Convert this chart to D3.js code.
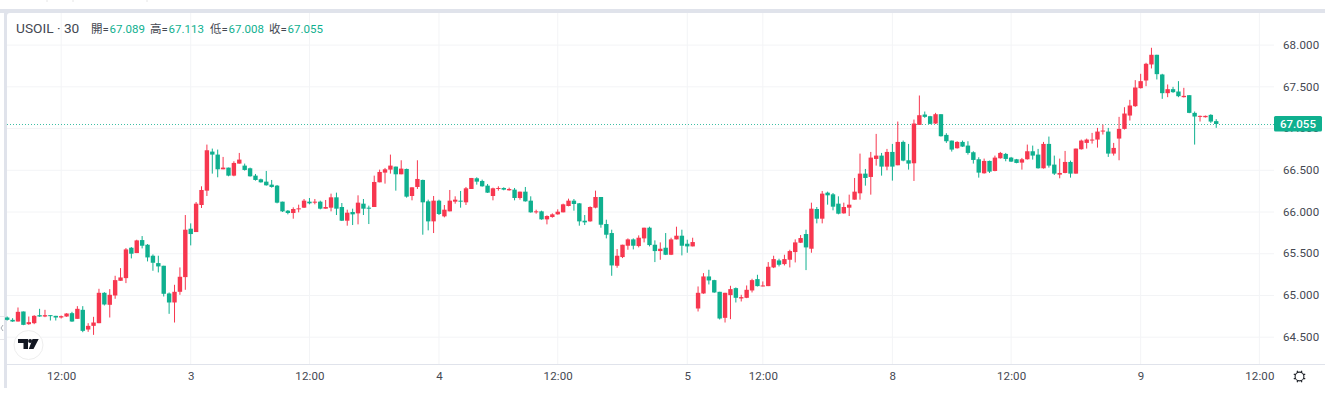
<!DOCTYPE html>
<html><head><meta charset="utf-8">
<script src="https://cdn.jsdelivr.net/npm/d3@7/dist/d3.min.js"></script>
<style>html,body{margin:0;padding:0;background:#fff;overflow:hidden}svg{display:block}</style>
</head><body><svg id="c" width="1325" height="396"></svg>
<script>
const opens=[64.736,64.708,64.688,64.808,64.656,64.668,64.764,64.748,64.764,64.756,64.736,64.748,64.788,64.72,64.828,64.592,64.636,64.668,65.032,64.888,65.0,65.176,65.208,65.572,65.508,65.664,65.608,65.476,65.388,65.356,65.024,64.916,65.044,65.22,65.8,65.76,66.084,66.256,66.724,66.688,66.512,66.532,66.436,66.58,66.556,66.524,66.436,66.392,66.364,66.328,66.316,66.124,66.016,65.988,66.032,66.052,66.124,66.116,66.124,66.04,66.052,66.176,66.06,65.896,66.0,65.984,66.1,66.052,66.06,66.356,66.472,66.508,66.544,66.452,66.516,66.192,66.3,66.384,66.128,65.888,66.136,65.948,66.008,
66.124,66.136,66.116,66.276,66.404,66.372,66.316,66.192,66.276,66.288,66.26,66.268,66.168,66.244,66.136,65.996,66.008,65.912,65.94,65.972,65.996,66.072,66.136,66.104,65.896,65.888,66.052,66.18,65.856,65.748,65.356,65.46,65.596,65.672,65.592,65.684,65.812,65.608,65.532,65.572,65.488,65.672,65.716,65.62,65.588,
64.844,65.024,65.228,65.184,65.044,64.732,65.004,65.088,64.964,64.972,65.06,65.196,65.112,65.112,65.336,65.42,65.376,65.428,65.52,65.632,65.736,65.56,66.036,65.92,66.232,66.212,66.1,65.984,66.052,
66.148,66.224,66.46,66.42,66.636,66.676,66.544,66.72,66.56,66.84,66.62,66.584,67.044,67.168,67.148,67.06,67.172,66.924,66.856,66.764,66.84,66.796,66.716,66.632,66.464,66.612,66.492,66.644,66.696,66.652,66.632,66.592,66.632,66.728,66.688,66.524,66.816,66.568,66.448,66.468,66.6,66.46,66.752,
66.828,66.86,66.868,66.964,66.964,66.7,66.88,66.996,67.156,67.268,67.484,67.576,67.768,67.884,67.648,67.424,67.472,67.444,67.376,67.4,67.188,67.14,67.136,67.164,67.089];
const highs=[64.748,64.728,64.856,64.808,64.748,64.764,64.84,64.828,64.764,64.756,64.76,64.788,64.804,64.872,64.872,64.668,64.744,65.08,65.04,65.076,65.236,65.328,65.568,65.58,65.668,65.712,65.616,65.492,65.476,65.356,65.036,65.128,65.336,65.964,65.864,66.12,66.308,66.808,66.76,66.748,66.66,66.532,66.608,66.708,66.58,66.532,66.456,66.4,66.492,66.384,66.324,66.124,66.024,66.056,66.088,66.156,66.168,66.156,66.136,66.144,66.22,66.232,66.108,66.028,66.04,66.2,66.156,66.076,66.436,66.508,66.528,66.688,66.544,66.62,66.52,66.296,66.62,66.388,66.148,66.192,66.148,66.084,66.264,
66.188,66.252,66.3,66.408,66.416,66.388,66.336,66.292,66.308,66.296,66.292,66.288,66.244,66.3,66.188,66.028,66.016,65.96,65.984,66.032,66.1,66.16,66.156,66.108,65.964,66.068,66.256,66.18,65.908,65.788,65.556,65.608,65.684,65.684,65.72,65.812,65.824,65.66,65.636,65.748,65.692,65.824,65.788,65.668,65.692,
65.108,65.268,65.308,65.188,65.044,65.032,65.116,65.096,65.008,65.12,65.2,65.248,65.168,65.4,65.476,65.44,65.488,65.548,65.672,65.724,65.788,66.112,66.06,66.252,66.244,66.228,66.188,66.112,66.208,
66.408,66.7,66.516,66.72,66.936,66.708,66.756,66.816,67.084,66.856,66.816,67.108,67.396,67.204,67.152,67.188,67.172,66.944,66.856,66.848,66.856,66.848,66.728,66.656,66.64,66.616,66.676,66.72,66.708,66.66,66.636,66.648,66.808,66.796,66.756,66.84,66.904,66.676,66.64,66.732,66.616,66.76,66.868,
66.88,66.948,67.008,67.048,67.008,66.828,67.14,67.256,67.344,67.58,67.656,67.788,67.968,67.884,67.656,67.528,67.5,67.568,67.488,67.4,67.204,67.156,67.156,67.172,67.113];
const lows=[64.70,64.684,64.688,64.644,64.648,64.656,64.744,64.74,64.70,64.70,64.724,64.744,64.684,64.72,64.56,64.564,64.528,64.668,64.88,64.736,64.96,65.176,65.148,65.444,65.508,65.564,65.408,65.296,65.276,64.988,64.78,64.676,65.008,65.068,65.6,65.76,66.048,66.192,66.46,66.416,66.512,66.428,66.428,66.58,66.496,66.424,66.376,66.352,66.316,66.292,66.104,66.0,65.972,65.92,65.996,66.048,66.092,66.092,66.032,66.04,66.008,65.964,65.892,65.836,65.844,65.852,65.964,65.856,66.06,66.356,66.34,66.46,66.256,66.452,66.172,66.14,66.276,65.728,65.78,65.748,65.964,65.936,66.008,
66.1,66.052,66.084,66.276,66.328,66.304,66.228,66.14,66.256,66.26,66.256,66.14,66.148,66.124,65.992,65.98,65.908,65.852,65.932,65.968,65.996,66.068,66.016,65.836,65.844,65.884,66.044,65.812,65.684,65.236,65.332,65.448,65.548,65.552,65.576,65.636,65.588,65.4,65.428,65.484,65.484,65.672,65.48,65.512,65.588,
64.808,65.02,65.132,65.032,64.712,64.676,64.716,64.916,64.928,64.968,65.036,65.108,65.108,65.112,65.328,65.348,65.36,65.336,65.396,65.628,65.304,65.512,65.864,65.864,66.088,66.02,65.972,65.98,65.952,
66.148,66.148,66.316,66.208,66.556,66.436,66.5,66.376,66.56,66.608,66.508,66.372,67.044,67.128,67.052,67.056,66.904,66.828,66.724,66.76,66.78,66.688,66.58,66.412,66.46,66.468,66.488,66.64,66.608,66.6,66.584,66.508,66.628,66.628,66.52,66.52,66.532,66.444,66.404,66.464,66.412,66.46,66.748,
66.76,66.82,66.772,66.928,66.66,66.676,66.62,66.988,67.096,67.26,67.48,67.508,67.72,67.588,67.356,67.376,67.428,67.376,67.372,67.184,66.808,67.084,67.132,67.068,67.008];
const closes=[64.708,64.688,64.804,64.648,64.68,64.756,64.748,64.764,64.752,64.736,64.752,64.784,64.688,64.84,64.576,64.636,64.676,65.032,64.892,65.008,65.184,65.216,65.552,65.5,65.66,65.596,65.456,65.392,65.348,65.02,64.916,65.044,65.224,65.788,65.736,66.1,66.264,66.74,66.688,66.512,66.532,66.436,66.588,66.628,66.504,66.428,66.384,66.356,66.32,66.3,66.112,66.008,65.988,66.036,66.044,66.136,66.104,66.124,66.04,66.06,66.176,66.04,65.896,65.992,65.972,66.112,66.04,66.044,66.36,66.48,66.512,66.556,66.452,66.52,66.184,66.296,66.396,66.116,65.888,66.136,65.976,66.028,66.136,
66.148,66.128,66.284,66.408,66.364,66.308,66.232,66.284,66.288,66.268,66.276,66.168,66.244,66.128,65.996,66.008,65.912,65.952,65.972,66.004,66.092,66.136,66.096,65.888,65.876,66.06,66.18,65.848,65.728,65.36,65.476,65.608,65.672,65.596,65.692,65.812,65.604,65.532,65.56,65.488,65.672,65.716,65.596,65.588,65.64,
65.032,65.228,65.18,65.036,64.724,65.032,65.076,64.972,64.98,65.068,65.184,65.112,65.12,65.344,65.436,65.368,65.436,65.532,65.636,65.688,65.576,66.04,65.92,66.22,66.2,66.064,65.98,66.06,66.088,
66.244,66.46,66.408,66.652,66.676,66.544,66.72,66.544,66.84,66.616,66.58,67.06,67.16,67.14,67.056,67.172,66.908,66.848,66.748,66.84,66.784,66.708,66.624,66.472,66.612,66.484,66.652,66.708,66.636,66.604,66.588,66.632,66.728,66.676,66.524,66.816,66.556,66.46,66.468,66.6,66.46,66.76,66.856,
66.868,66.868,66.964,66.976,66.7,66.768,66.996,67.18,67.276,67.492,67.568,67.776,67.884,67.652,67.424,67.472,67.436,67.388,67.392,67.188,67.144,67.152,67.152,67.084,67.055];
const priceTicks=[64.5,65,65.5,66,66.5,67,67.5,68];
const timeTickBars=[11,35,57,81,103,127,141,165,187,211,233];
const timeTickLabels=["12:00","3","12:00","4","12:00","5","12:00","8","12:00","9","12:00"];
const lastPrice=67.055;
const headerValues=["67.089","67.113","67.008","67.055"];
const headerNames=["開","高","低","收"];

const UP="#f7374f",DOWN="#0fb08f",AXIS="#e0e3eb",GRID="#f3f4f6",TEXT="#444852";
const FONT="Roboto,'Noto Sans CJK TC',sans-serif";
const svg=d3.select("#c");
const x=d3.scaleLinear().domain([1,233]).range([7.2,1259.4]);
const y=d3.scaleLinear().domain([64.5,68]).range([337.2,45.1]);
const L=7,R=1274,T=13,B=364;

// frame
svg.append("rect").attr("x",0).attr("y",9).attr("width",1325).attr("height",4).attr("fill",AXIS);
svg.append("rect").attr("x",4).attr("y",9).attr("width",3).attr("height",379).attr("fill",AXIS);
svg.append("path").attr("d","M7 13 h3 a3 3 0 0 0 -3 3 z").attr("fill",AXIS);
[47,73,147].forEach(v=>svg.append("line").attr("x1",v).attr("x2",v).attr("y1",0).attr("y2",2).attr("stroke","#e6e6e6"));

// grid
const g=svg.append("g");
g.selectAll(".gx").data(timeTickBars).join("line").attr("x1",d=>x(d)).attr("x2",d=>x(d)).attr("y1",T).attr("y2",B).attr("stroke",GRID);
g.selectAll(".gy").data(priceTicks).join("line").attr("x1",L).attr("x2",R).attr("y1",d=>y(d)).attr("y2",d=>y(d)).attr("stroke",GRID);

// last price line, snapped to a pixel row so the dots stay crisp
const lastY=Math.round(y(lastPrice))+.5;
svg.append("line").attr("x1",L).attr("x2",R).attr("y1",lastY).attr("y2",lastY)
  .attr("stroke",DOWN).attr("stroke-width",1).attr("stroke-dasharray","1 2").attr("opacity",.8);

// candles
const bars=d3.range(opens.length);
const wickG=svg.append("g"),bodyG=svg.append("g");
const col=i=>closes[i]>=opens[i]?UP:DOWN;
wickG.selectAll("line").data(bars).join("line")
  .attr("x1",i=>x(i+1)).attr("x2",i=>x(i+1)).attr("y1",i=>y(highs[i])).attr("y2",i=>y(lows[i]))
  .attr("stroke",col).attr("stroke-width",1);
bodyG.selectAll("rect").data(bars).join("rect")
  .attr("x",i=>x(i+1)-2.2).attr("width",4.4)
  .attr("y",i=>y(Math.max(opens[i],closes[i])))
  .attr("height",i=>Math.max(1,Math.abs(y(opens[i])-y(closes[i]))))
  .attr("fill",col);

// axes
const xAxis=d3.axisBottom(x).tickValues(timeTickBars).tickSize(0).tickPadding(0)
  .tickFormat((d,i)=>timeTickLabels[i]);
const xg=svg.append("g").attr("transform",`translate(0,${B})`).call(xAxis);
xg.select(".domain").remove();
xg.selectAll("text").attr("y",16).attr("dy",0).attr("fill",TEXT).attr("font-family",FONT).attr("font-size",11.5).attr("letter-spacing",.15);
svg.append("line").attr("x1",L).attr("x2",1325).attr("y1",B+.5).attr("y2",B+.5).attr("stroke",AXIS);
const yAxis=d3.axisRight(y).tickValues(priceTicks).tickSize(0).tickPadding(0).tickFormat(d3.format(".3f"));
const yg=svg.append("g").attr("transform",`translate(1283,-0.5)`).call(yAxis);
yg.select(".domain").remove();
yg.selectAll("text").attr("fill",TEXT).attr("font-family",FONT).attr("font-size",11.5).attr("letter-spacing",.15);

// price tag
svg.append("rect").attr("x",1274).attr("y",116).attr("width",48).attr("height",15.5).attr("rx",1.5).attr("fill",DOWN);
svg.append("text").attr("x",1298).attr("y",128).attr("text-anchor","middle").attr("fill","#fff")
  .attr("font-family",FONT).attr("font-size",11.5).attr("font-weight",500).text(d3.format(".3f")(lastPrice));

// legend
const hy=33;
svg.append("text").attr("x",16).attr("y",hy).attr("font-family",FONT).attr("font-size",13.7).attr("fill",TEXT).text("USOIL · 30");
const hx=[91,150,210,269];
headerNames.forEach((n,i)=>{
  const t=svg.append("text").attr("x",hx[i]).attr("y",hy-.5).attr("font-family",FONT).attr("font-size",11.5);
  t.append("tspan").attr("fill",TEXT).text(n+"=");
  t.append("tspan").attr("fill",DOWN).attr("x",hx[i]+18.5).text(headerValues[i]);
});

// logo badge
const lg=svg.append("g").attr("transform","translate(28.5,345)");
lg.append("circle").attr("r",14.5).attr("fill","#fff").attr("stroke","#eeeeee").attr("stroke-width",1);
lg.append("path").attr("fill","#131722").attr("d","M-10.5-6H-0.5V4H-5V-2H-10.5Z M4-6H10.2L5 4H0.3Z");
lg.append("circle").attr("cx",1.6).attr("cy",-4).attr("r",2).attr("fill","#131722");

// left handle
svg.append("path").attr("d","M0 316.5H4M0 339.5H4").attr("stroke","#e6e6ea");
svg.append("path").attr("d","M3 325 L1 328 L3 331").attr("fill","none").attr("stroke","#a8acb4");

// gear
const gear=svg.append("g").attr("transform","translate(1299.5,376.5)").attr("fill","none").attr("stroke","#22252c");
gear.append("circle").attr("r",4.4).attr("stroke-width",1.1);
d3.range(8).forEach(k=>{const a=k*Math.PI/4+Math.PI/8;gear.append("line")
  .attr("x1",4.4*Math.cos(a)).attr("y1",4.4*Math.sin(a)).attr("x2",6.2*Math.cos(a)).attr("y2",6.2*Math.sin(a)).attr("stroke-width",1.2);});
</script></body></html>
